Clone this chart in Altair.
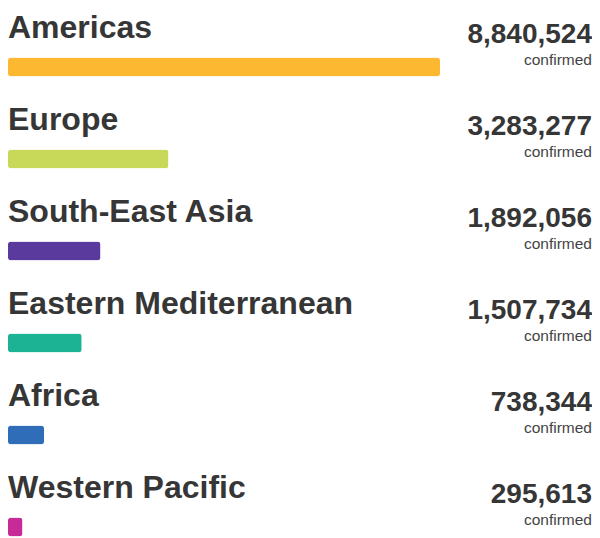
import altair as alt
import pandas as pd

regions = ["Americas", "Europe", "South-East Asia", "Eastern Mediterranean", "Africa", "Western Pacific"]
confirmed = [8840524, 3283277, 1892056, 1507734, 738344, 295613]
colors = ["#FBB830", "#C8D95A", "#5B3A9E", "#1BB394", "#2F6DB8", "#C62B97"]

df = pd.DataFrame({"region": regions, "value": confirmed, "sub": ["confirmed"] * len(regions)})

y = alt.Y("region:N", sort=regions, scale=alt.Scale(type="point", padding=0), axis=None)
font = "Liberation Sans"

bars = alt.Chart(df).mark_bar(height=19, cornerRadius=3).encode(
    x=alt.X("value:Q", scale=alt.Scale(domain=[0, max(confirmed)], range=[0, 432], nice=False), axis=None),
    y=y,
    color=alt.Color("region:N", scale=alt.Scale(domain=regions, range=colors), legend=None),
)

labels = alt.Chart(df).mark_text(
    align="left", baseline="alphabetic", dy=-29, font=font, fontSize=32, fontWeight="bold", color="#363636"
).encode(x=alt.value(0), y=y, text="region:N")

numbers = alt.Chart(df).mark_text(
    align="right", baseline="alphabetic", dy=-24, font=font, fontSize=28, fontWeight="bold", color="#363636"
).encode(x=alt.value(584), y=y, text=alt.Text("value:Q", format=","))

subs = alt.Chart(df).mark_text(
    align="right", baseline="alphabetic", dy=-2, font=font, fontSize=15.5, color="#444444"
).encode(x=alt.value(584), y=y, text="sub:N")

chart = alt.layer(bars, labels, numbers, subs).properties(
    width=584, height=460, padding={"top": 4, "left": 0, "right": 0, "bottom": 0}
).configure_view(stroke=None)

chart.save("out.html", embed_options={"renderer": "svg", "actions": False})
